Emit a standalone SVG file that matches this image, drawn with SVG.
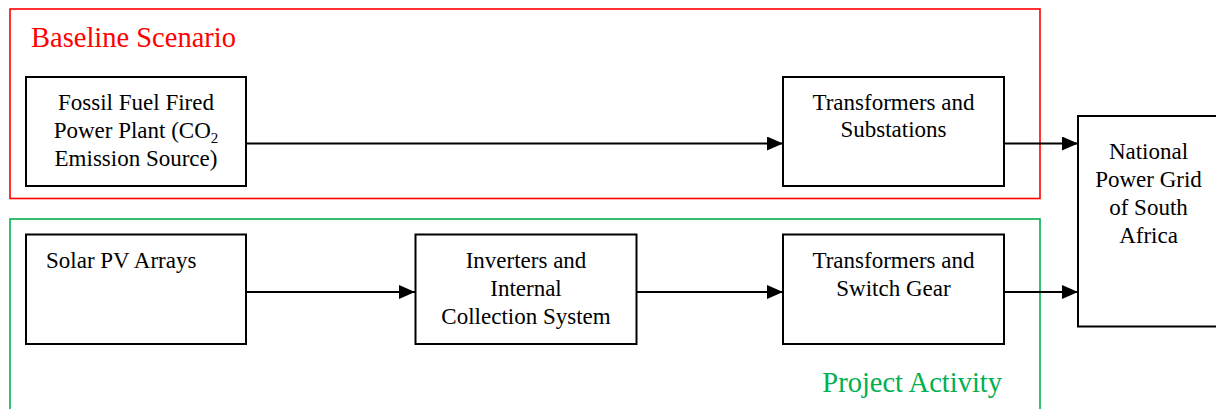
<svg xmlns="http://www.w3.org/2000/svg" width="1216" height="409" viewBox="0 0 1216 409">
<style>
text{font-family:"Liberation Serif","Tinos","Times New Roman","Times","Nimbus Roman","Nimbus Roman No9 L","DejaVu Serif",serif}
.node{fill:#fff;stroke:#000;stroke-width:2}
.t{font-size:23px;fill:#000}
.m{text-anchor:middle}
.frame{fill:none;stroke-width:1.6}
.title{font-size:28.5px}
.conn{fill:none;stroke:#000;stroke-width:2}
</style>
<defs>
<marker id="ah" markerUnits="userSpaceOnUse" markerWidth="18" markerHeight="16" refX="16" refY="7" orient="auto">
<path d="M0,0 L16,7 L0,14 Z" fill="#000"/>
</marker>
</defs>
<g id="baseline-frame">
<rect class="frame" x="10" y="9" width="1030" height="189.5" stroke="#ff0000"/>
<text class="title" x="31" y="47" fill="#ff0000">Baseline Scenario</text>
</g>
<g id="project-frame">
<rect class="frame" x="10" y="219" width="1030" height="200" stroke="#00b050"/>
<text class="title" x="1002" y="392" text-anchor="end" fill="#00b050">Project Activity</text>
</g>
<g id="connectors">
<line class="conn" x1="246" y1="143.5" x2="783" y2="143.5" marker-end="url(#ah)"/>
<line class="conn" x1="1004" y1="143.5" x2="1078" y2="143.5" marker-end="url(#ah)"/>
<line class="conn" x1="246" y1="292" x2="415" y2="292" marker-end="url(#ah)"/>
<line class="conn" x1="637" y1="292" x2="783" y2="292" marker-end="url(#ah)"/>
<line class="conn" x1="1004" y1="292" x2="1078" y2="292" marker-end="url(#ah)"/>
</g>
<g id="fossil">
<rect class="node" x="26" y="77" width="220" height="109"/>
<text class="t m" x="136" y="110">Fossil Fuel Fired</text>
<text class="t m" x="136" y="138">Power Plant (CO<tspan font-size="15" dy="5">2</tspan></text>
<text class="t m" x="136" y="166">Emission Source)</text>
</g>
<g id="transformers-substations">
<rect class="node" x="783" y="77" width="221" height="109"/>
<text class="t m" x="893.5" y="110">Transformers and</text>
<text class="t m" x="893.5" y="137">Substations</text>
</g>
<g id="national-grid">
<rect class="node" x="1078" y="116" width="142" height="210.5"/>
<text class="t m" x="1148.5" y="158.5">National</text>
<text class="t m" x="1148.5" y="186.5">Power Grid</text>
<text class="t m" x="1148.5" y="215">of South</text>
<text class="t m" x="1148.5" y="243">Africa</text>
</g>
<g id="solar">
<rect class="node" x="26" y="234.5" width="220" height="109.5"/>
<text class="t" x="46" y="268">Solar PV Arrays</text>
</g>
<g id="inverters">
<rect class="node" x="415.5" y="234.5" width="221" height="109.5"/>
<text class="t m" x="526" y="268">Inverters and</text>
<text class="t m" x="526" y="296">Internal</text>
<text class="t m" x="526" y="324">Collection System</text>
</g>
<g id="transformers-switchgear">
<rect class="node" x="783" y="234.5" width="221" height="109.5"/>
<text class="t m" x="893.5" y="268">Transformers and</text>
<text class="t m" x="893.5" y="296">Switch Gear</text>
</g>
</svg>
